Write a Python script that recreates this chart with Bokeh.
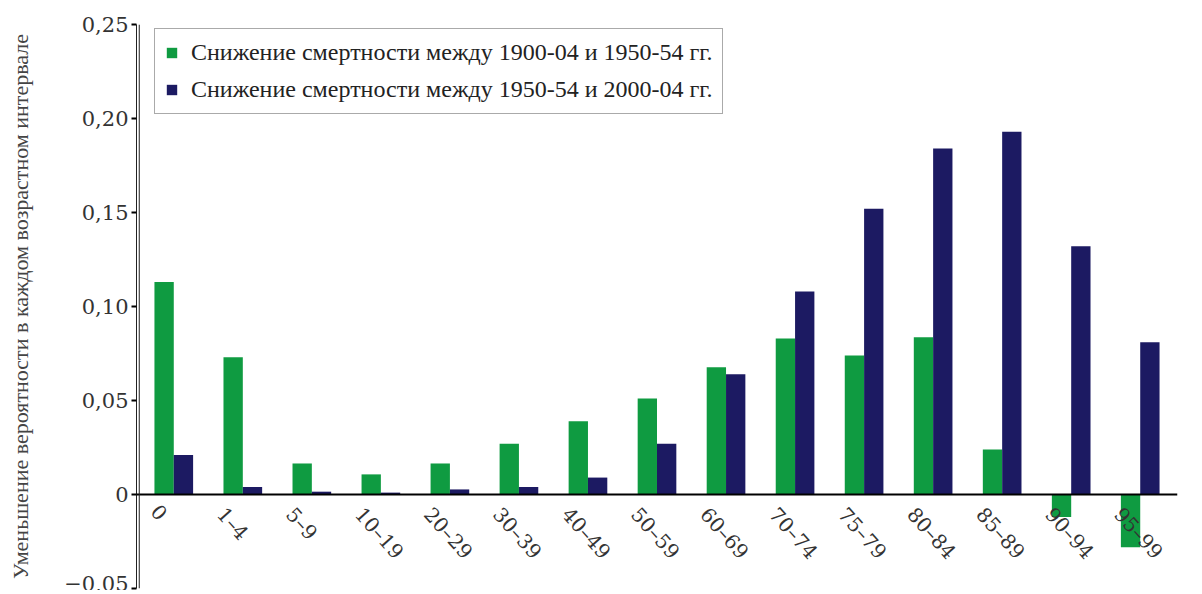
import math
from bokeh.plotting import figure
from bokeh.models import (ColumnDataSource, FactorRange, Range1d, FixedTicker, Span,
                          Legend, LegendItem)
from bokeh.transform import dodge
from bokeh.core.properties import value
from bokeh.embed import file_html
from bokeh.resources import INLINE

categories = ["0", "1–4", "5–9", "10–19", "20–29", "30–39", "40–49", "50–59",
              "60–69", "70–74", "75–79", "80–84", "85–89", "90–94", "95–99"]
decline_1900_1950 = [0.113, 0.073, 0.0165, 0.0107, 0.0165, 0.027, 0.039, 0.051,
                     0.0677, 0.083, 0.074, 0.0836, 0.024, -0.012, -0.028]
decline_1950_2000 = [0.021, 0.004, 0.0015, 0.001, 0.0027, 0.004, 0.009, 0.027,
                     0.064, 0.108, 0.152, 0.184, 0.193, 0.132, 0.081]
y_ticks = [-0.05, 0.0, 0.05, 0.10, 0.15, 0.20, 0.25]
y_tick_labels = ["−0,05", "0", "0,05", "0,10", "0,15", "0,20", "0,25"]
series_names = ["Снижение смертности между 1900-04 и 1950-54 гг.",
                "Снижение смертности между 1950-54 и 2000-04 гг."]
y_title = "Уменьшение вероятности в каждом возрастном интервале"

GREEN = "#0f9b41"
NAVY = "#1c1a62"

source = ColumnDataSource(data=dict(cat=categories, a=decline_1900_1950,
                                    b=decline_1950_2000,
                                    base=[0.0] * len(categories)))

x_range = FactorRange(factors=categories, range_padding=0.04,
                      range_padding_units="absolute")
p = figure(width=1190, height=590, x_range=x_range, y_range=Range1d(-0.05, 0.25),
           output_backend="svg", toolbar_location=None,
           min_border_left=136, min_border_right=13, min_border_top=24,
           min_border_bottom=2)
p.outline_line_color = None
p.grid.visible = False
p.background_fill_color = "white"

bw = 0.28
r1 = p.vbar(x=dodge("cat", -bw / 2, range=x_range), top="a", bottom="base", width=bw,
            source=source, fill_color=GREEN, line_color=None)
r2 = p.vbar(x=dodge("cat", bw / 2, range=x_range), top="b", bottom="base", width=bw,
            source=source, fill_color=NAVY, line_color=None)

# x axis hidden; labels drawn at the zero line
p.xaxis.visible = False
p.text(x="cat", y="base", text="cat", source=source, angle=-0.84,
       text_align="left", text_baseline="top", x_offset=-13, y_offset=8,
       text_font=value("DejaVu Serif"), text_font_size="20px", text_color="#333333")

# zero line
p.add_layout(Span(location=0, dimension="width", line_color="black", line_width=2))
# double y-axis line
p.add_layout(Span(location=0, dimension="height", line_color="#222222", line_width=1))

ya = p.yaxis[0]
ya.ticker = FixedTicker(ticks=y_ticks)
ya.major_label_overrides = {t: l for t, l in zip(y_ticks, y_tick_labels)}
ya.major_label_text_font = "DejaVu Serif"
ya.major_label_text_font_size = "21px"
ya.major_label_text_color = "#333333"
ya.axis_line_color = "#222222"
ya.axis_line_width = 1
ya.major_tick_line_color = "black"
ya.major_tick_line_width = 2
ya.major_tick_out = 5
ya.major_tick_in = 0
ya.minor_tick_line_color = None
ya.major_label_standoff = 3
ya.axis_label = y_title
ya.axis_label_text_font = "Liberation Serif"
ya.axis_label_text_font_size = "22px"
ya.axis_label_text_font_style = "normal"
ya.axis_label_text_color = "#444444"
ya.axis_label_standoff = 28

legend = Legend(items=[LegendItem(label=series_names[0], renderers=[r1]),
                       LegendItem(label=series_names[1], renderers=[r2])],
                location=(18, 474), margin=0, padding=10, spacing=10,
                glyph_width=13, glyph_height=13, label_height=24,
                label_standoff=13, label_text_font="Liberation Serif",
                label_text_font_size="24px", label_text_color="#222222",
                border_line_color="#555555", border_line_width=1,
                background_fill_color="white", background_fill_alpha=1)
p.add_layout(legend, "center")

open("out.html", "w").write(file_html(p, INLINE))
